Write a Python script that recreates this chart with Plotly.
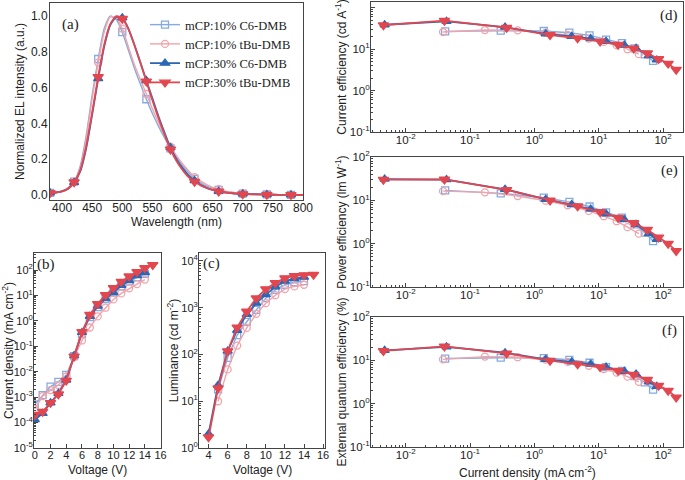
import plotly.graph_objects as go

W, H = 685, 480

# ---------------- data ----------------
series_names = ["mCP:10% C6-DMB", "mCP:10% tBu-DMB", "mCP:30% C6-DMB", "mCP:30% tBu-DMB"]

# (a) EL spectra
wl = [380, 390, 400, 410, 420, 430, 440, 450, 460, 470, 480, 490, 500, 510, 520, 530, 540, 550,
      560, 570, 580, 590, 600, 610, 620, 630, 640, 650, 660, 670, 680, 690, 700, 720, 740, 760, 780, 800]
el_c6_10 = [0.012, 0.015, 0.022, 0.040, 0.075, 0.160, 0.330, 0.560, 0.760, 0.930, 1.000, 0.980, 0.910,
            0.810, 0.710, 0.620, 0.535, 0.455, 0.385, 0.320, 0.260, 0.210, 0.165, 0.125, 0.090, 0.068,
            0.050, 0.038, 0.028, 0.020, 0.015, 0.011, 0.008, 0.005, 0.003, 0.002, 0.001, 0.000]
el_tbu_10 = [0.012, 0.015, 0.022, 0.040, 0.075, 0.150, 0.310, 0.540, 0.740, 0.910, 0.995, 0.990, 0.930,
             0.830, 0.730, 0.645, 0.565, 0.480, 0.405, 0.335, 0.270, 0.220, 0.175, 0.135, 0.100, 0.077,
             0.058, 0.043, 0.032, 0.023, 0.017, 0.012, 0.009, 0.005, 0.003, 0.002, 0.001, 0.000]
el_c6_30 = [0.012, 0.014, 0.020, 0.035, 0.070, 0.130, 0.260, 0.450, 0.650, 0.830, 0.950, 0.995, 0.990,
            0.930, 0.840, 0.740, 0.640, 0.540, 0.440, 0.350, 0.265, 0.200, 0.150, 0.110, 0.080, 0.057,
            0.040, 0.029, 0.021, 0.015, 0.011, 0.008, 0.006, 0.004, 0.002, 0.001, 0.001, 0.000]
el_tbu_30 = [0.012, 0.014, 0.020, 0.035, 0.072, 0.135, 0.270, 0.460, 0.660, 0.840, 0.955, 1.000, 0.985,
             0.930, 0.840, 0.740, 0.635, 0.530, 0.430, 0.340, 0.255, 0.190, 0.140, 0.100, 0.075, 0.054,
             0.039, 0.028, 0.020, 0.014, 0.010, 0.007, 0.005, 0.003, 0.002, 0.001, 0.001, 0.000]
marker_wl = [380, 420, 460, 500, 540, 580, 620, 660, 700, 740, 780]

# (b) current density vs voltage
volt_14 = [0, 1, 2, 3, 4, 5, 6, 7, 8, 9, 10, 11, 12, 13, 14]
volt_15 = [0, 1, 2, 3, 4, 5, 6, 7, 8, 9, 10, 11, 12, 13, 14, 15]
j_c6_10 = [5.2e-4, 1.2e-3, 2.6e-3, 4.0e-3, 7.5e-3, 4.1e-2, 0.30, 1.4, 3.5, 7.2, 13, 23, 36, 52, 70]
j_tbu_10 = [3.5e-4, 1.1e-3, 1.9e-3, 3.0e-3, 6.5e-3, 3.8e-2, 0.17, 0.55, 1.5, 3.3, 7, 12, 19, 28, 42]
j_c6_30 = [1.3e-4, 2.3e-4, 6.0e-4, 1.4e-3, 4.7e-3, 4.3e-2, 0.35, 1.5, 3.8, 7.5, 13, 25, 38, 60, 80]
j_tbu_30 = [2.0e-4, 2.7e-4, 6.0e-4, 1.3e-3, 4.5e-3, 4.0e-2, 0.37, 1.75, 4.7, 10.5, 20, 35, 57, 85, 120, 160]

# (c) luminance vs voltage
lv_volt_10 = [5, 6, 7, 8, 9, 10, 11, 12, 13, 14]
lv_volt_c6_30 = [4, 5, 6, 7, 8, 9, 10, 11, 12, 13, 14]
lv_volt_tbu_30 = [4, 5, 6, 7, 8, 9, 10, 11, 12, 13, 14, 15]
lum_c6_10 = [18, 85, 260, 500, 900, 1600, 2400, 3100, 3500, 3700]
lum_tbu_10 = [10, 48, 155, 370, 740, 1250, 1850, 2500, 2850, 3100]
lum_c6_30 = [2.0, 22, 118, 330, 720, 1250, 1900, 2800, 3700, 4200, 4500]
lum_tbu_30 = [1.7, 19, 118, 380, 830, 1600, 2500, 3400, 4300, 4800, 5000, 5100]

# (d)-(f) efficiencies vs current density
ej_c6_10 = [4.1e-2, 0.30, 1.4, 3.5, 7.2, 13, 23, 36, 52, 70]
ej_tbu_10 = [3.8e-2, 0.17, 0.55, 1.5, 3.3, 7, 12, 19, 28, 42]
ej_c6_30 = [4.7e-3, 4.3e-2, 0.35, 1.5, 3.8, 7.5, 13, 25, 38, 60, 80]
ej_tbu_30 = [4.5e-3, 4.0e-2, 0.37, 1.75, 4.7, 10.5, 20, 35, 57, 85, 120, 160]

ce_c6_10 = [27, 28, 27.5, 25, 21.5, 17, 14, 10.5, 7.5, 5.2]
ce_tbu_10 = [26, 29, 28.5, 25, 22, 18, 15, 12.5, 10, 7.6]
ce_c6_30 = [39, 47, 34, 23.5, 20.5, 18, 15.5, 12.5, 10.5, 7, 5.5]
ce_tbu_30 = [38, 49, 33, 22, 18.5, 15.5, 12.8, 10.5, 8.0, 5.8, 4.5, 3.2]

pe_c6_10 = [17, 14.5, 11.5, 9.2, 7.2, 5.3, 4.0, 2.8, 1.8, 1.15]
pe_tbu_10 = [16.3, 15.3, 12.6, 9.8, 7.7, 5.7, 4.3, 3.3, 2.4, 1.7]
pe_c6_30 = [31, 30, 18, 10.5, 8.0, 6.3, 4.9, 3.6, 2.8, 1.7, 1.25]
pe_tbu_30 = [30, 30.5, 17.5, 10, 7.3, 5.4, 4.0, 3.0, 2.1, 1.4, 1.0, 0.68]

eqe_c6_10 = [11, 11.5, 11.3, 10.3, 8.8, 7.0, 5.7, 4.3, 3.1, 2.1]
eqe_tbu_10 = [10.5, 12.2, 11.8, 10.4, 9.2, 7.5, 6.3, 5.2, 4.2, 3.2]
eqe_c6_30 = [17, 20.5, 15, 10.5, 9.2, 8.2, 7.0, 5.6, 4.8, 3.2, 2.5]
eqe_tbu_30 = [16.5, 21, 14.5, 9.8, 8.2, 7.0, 5.8, 4.7, 3.6, 2.6, 2.0, 1.4]

# tick labels
b_exps = [-5, -4, -3, -2, -1, 0, 1, 2]
c_exps = [0, 1, 2, 3, 4]
eff_y_exps = [-1, 0, 1, 2]
eff_x_exps = [-2, -1, 0, 1, 2]

# ---------------- styles ----------------
styles = [
    dict(color="#86abe0", symbol="square-open", size=7, lw=1.4),
    dict(color="#f2a3aa", symbol="circle-open", size=7, lw=1.4),
    dict(color="#2c67b5", symbol="triangle-up", size=8, lw=1.8),
    dict(color="#e2474f", symbol="triangle-down", size=9, lw=1.8),
]
SANS = "Liberation Sans, Arial, sans-serif"
SERIF = "Liberation Serif, Times New Roman, serif"
AXC = "#444444"
TXT = "#222222"
TICK = 11

fig = go.Figure()

# ---- panel (a)
el_all = [el_c6_10, el_tbu_10, el_c6_30, el_tbu_30]
for k, (ys, st) in enumerate(zip(el_all, styles)):
    fig.add_trace(go.Scatter(x=wl, y=ys, mode="lines",
                             line=dict(color=st["color"], width=st["lw"], shape="spline", smoothing=0.6),
                             showlegend=False, xaxis="x", yaxis="y", hoverinfo="skip"))
    mx = [w for w in wl if w in marker_wl]
    my = [v for w, v in zip(wl, ys) if w in marker_wl]
    fig.add_trace(go.Scatter(x=mx, y=my, mode="markers",
                             marker=dict(symbol=st["symbol"], size=st["size"], color=st["color"],
                                         line=dict(color=st["color"], width=1.3)),
                             showlegend=False, xaxis="x", yaxis="y"))
for name, st in zip(series_names, styles):
    fig.add_trace(go.Scatter(x=[None], y=[None], mode="lines+markers", name=name,
                             line=dict(color=st["color"], width=st["lw"]),
                             marker=dict(symbol=st["symbol"], size=st["size"], color=st["color"],
                                         line=dict(color=st["color"], width=1.3)),
                             xaxis="x", yaxis="y"))


def add_series(xs, ys, st, xa, ya):
    fig.add_trace(go.Scatter(x=xs, y=ys, mode="lines+markers",
                             line=dict(color=st["color"], width=st["lw"]),
                             marker=dict(symbol=st["symbol"], size=st["size"], color=st["color"],
                                         line=dict(color=st["color"], width=1.3)),
                             showlegend=False, xaxis=xa, yaxis=ya))


# ---- panel (b)
for xs, ys, st in zip([volt_14, volt_14, volt_14, volt_15], [j_c6_10, j_tbu_10, j_c6_30, j_tbu_30], styles):
    add_series(xs, ys, st, "x2", "y2")
# ---- panel (c)
for xs, ys, st in zip([lv_volt_10, lv_volt_10, lv_volt_c6_30, lv_volt_tbu_30],
                      [lum_c6_10, lum_tbu_10, lum_c6_30, lum_tbu_30], styles):
    add_series(xs, ys, st, "x3", "y3")
# ---- panels (d)(e)(f)
ej = [ej_c6_10, ej_tbu_10, ej_c6_30, ej_tbu_30]
for ax_i, effs in zip([4, 5, 6], [[ce_c6_10, ce_tbu_10, ce_c6_30, ce_tbu_30],
                                  [pe_c6_10, pe_tbu_10, pe_c6_30, pe_tbu_30],
                                  [eqe_c6_10, eqe_tbu_10, eqe_c6_30, eqe_tbu_30]]):
    for xs, ys, st in zip(ej, effs, styles):
        add_series(xs, ys, st, f"x{ax_i}", f"y{ax_i}")


def dom_x(x0, x1):
    return [x0 / W, x1 / W]


def dom_y(y0, y1):
    return [1 - y1 / H, 1 - y0 / H]


def base_axis(size, standoff):
    return dict(showline=True, mirror=True, linecolor=AXC, linewidth=1, showgrid=False, zeroline=False,
                automargin=False,
                ticks="inside", ticklen=4, tickcolor=AXC, tickwidth=1, ticklabelstandoff=standoff,
                tickfont=dict(family=SANS, size=size, color=TXT))


def log_ticks(exps):
    return dict(tickmode="array", tickvals=[10.0 ** e for e in exps],
                ticktext=[f"10<sup>{e}</sup>" for e in exps],
                minor=dict(ticks="inside", ticklen=2, tickcolor=AXC, dtick="D1", showgrid=False))


def title(text, size, standoff):
    return dict(text=text, font=dict(family=SANS, size=size, color=TXT), standoff=standoff)


layout = dict(width=W, height=H, margin=dict(l=0, r=0, t=0, b=0, pad=0, autoexpand=False),
              plot_bgcolor="white", paper_bgcolor="white", showlegend=True,
              legend=dict(x=145 / W, y=1 - 10 / H, xanchor="left", yanchor="top", bgcolor="rgba(0,0,0,0)",
                          font=dict(family=SERIF, size=12.5, color=TXT), itemwidth=30, tracegroupgap=0))

# (a)
ax = base_axis(12, -3)
ax.update(domain=dom_x(50, 303), range=[380, 800], dtick=50, tick0=400, anchor="y", ticks="")
layout["xaxis"] = ax
ay = base_axis(12, -1)
ay.update(domain=dom_y(3, 200), range=[-0.028, 1.073], dtick=0.2, tick0=0, tickformat=".1f", anchor="x",
          ticks="", title=title("Normalized EL intensity (a.u.)", 12, 3))
layout["yaxis"] = ay

# (b)
ax = base_axis(TICK, -3)
ax.update(domain=dom_x(34, 161), range=[-0.1, 16.05], dtick=2, tick0=0, anchor="y2")
layout["xaxis2"] = ax
ay = base_axis(TICK, -2)
ay.update(domain=dom_y(253, 448), type="log", range=[-5, 2.67], anchor="x2",
          title=title("Current density (mA cm<sup>-2</sup>)", 12, 0), **log_ticks(b_exps))
layout["yaxis2"] = ay

# (c)
ax = base_axis(TICK, -3)
ax.update(domain=dom_x(199, 325), range=[3, 16.2], dtick=2, tick0=0, anchor="y3")
layout["xaxis3"] = ax
ay = base_axis(TICK, -2)
ay.update(domain=dom_y(253, 448), type="log", range=[0, 4.17], anchor="x3",
          title=title("Luminance (cd m<sup>-2</sup>)", 12, 0), **log_ticks(c_exps))
layout["yaxis3"] = ay

# (d)(e)(f)
eff_titles = ["Current efficiency (cd A<sup>-1</sup>)", "Power efficiency (lm W<sup>-1</sup>)",
              "External quantum efficiency (%)"]
eff_boxes = [(2, 132, [-1, 2.14]), (157, 287, [-1, 2.0]), (317, 447, [-1, 2.0])]
for i, (t, (y0, y1, rng)) in enumerate(zip(eff_titles, eff_boxes)):
    n = i + 4
    ax = base_axis(TICK + 0.5, -3)
    ax.update(domain=dom_x(371, 683), type="log", range=[-2.54, 2.31], anchor=f"y{n}", **log_ticks(eff_x_exps))
    layout[f"xaxis{n}"] = ax
    ay = base_axis(TICK + 0.5, -2)
    ay.update(domain=dom_y(y0, y1), type="log", range=rng, anchor=f"x{n}",
              title=title(t, 12, 0), **log_ticks(eff_y_exps))
    layout[f"yaxis{n}"] = ay

panel_labels = [("(a)", 70, 24), ("(b)", 46, 264), ("(c)", 211, 263), ("(d)", 669, 16), ("(e)", 669, 170),
                ("(f)", 669, 330)]
annots = [dict(text=t, x=px / W, y=1 - py / H, xref="paper", yref="paper", showarrow=False,
               font=dict(family=SERIF, size=15, color=TXT), xanchor="center", yanchor="middle")
          for t, px, py in panel_labels]
x_titles = [("Wavelength (nm)", 176, 222), ("Voltage (V)", 98, 470), ("Voltage (V)", 262, 470),
            ("Current density (mA cm<sup>-2</sup>)", 527, 472)]
annots += [dict(text=t, x=px / W, y=1 - py / H, xref="paper", yref="paper", showarrow=False,
                font=dict(family=SANS, size=12, color=TXT), xanchor="center", yanchor="middle")
           for t, px, py in x_titles]
layout["annotations"] = annots

fig.update_layout(**layout)
fig.write_html("out.html", post_script="document.body.style.margin='0px';",
               config={"displayModeBar": False})
